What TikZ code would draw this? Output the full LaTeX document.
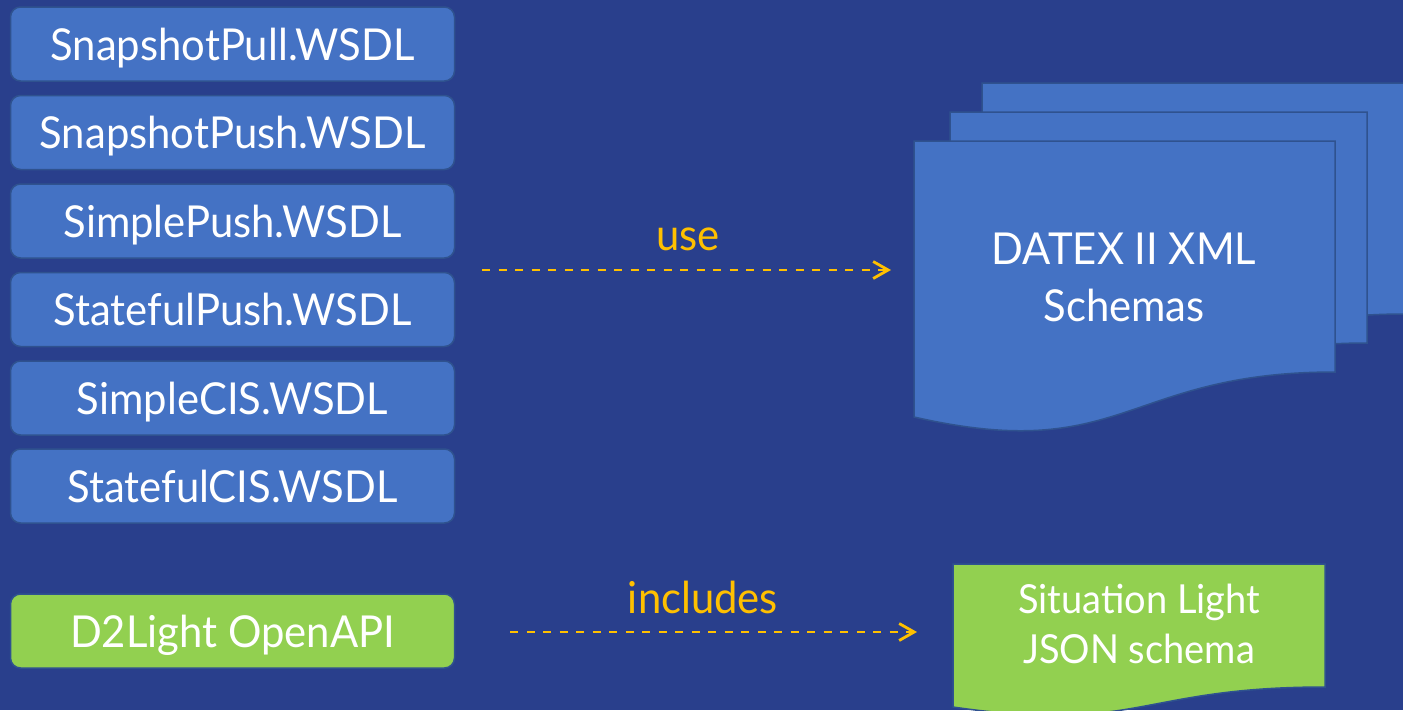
\documentclass[tikz,border=0pt]{standalone}
\usepackage{fontspec}
\setmainfont[FakeStretch=0.95]{Lato}
\usetikzlibrary{arrows.meta}
\definecolor{bgblue}{HTML}{293F8C}
\definecolor{boxblue}{HTML}{4472C4}
\definecolor{boxedge}{HTML}{2F528F}
\definecolor{lgreen}{HTML}{92D050}
\definecolor{amber}{HTML}{FFC000}
\begin{document}
\begin{tikzpicture}[x=1pt,y=-1pt,
  wsdl/.style={draw=boxedge, line width=1.5pt, fill=boxblue, rounded corners=10pt,
    minimum width=444pt, minimum height=74pt, text=white, inner sep=0pt,
    font=\fontsize{44}{50}\selectfont, text height=32pt, text depth=0pt},
  apibox/.style={wsdl, fill=lgreen},
  docshape/.style={fill=boxblue, draw=boxedge, line width=1.5pt},
  doctext/.style={text=white, align=center, inner sep=0pt},
  dasharrow/.style={draw=amber, line width=2.8pt, dash pattern=on 8pt off 8.5pt,
    -{Straight Barb[length=15pt,width=17pt,line width=2.8pt]}},
  lbl/.style={text=amber, font=\fontsize{44}{50}\selectfont, inner sep=0pt, anchor=base}]
\fill[bgblue] (0,0) rectangle (1403,710);
\useasboundingbox (0,0) rectangle (1403,710);
\clip (0,0) rectangle (1403,710);

% WSDL boxes
\node[wsdl] (b1) at (232.5,44) {SnapshotPull.WSDL};
\node[wsdl] (b2) at (232.5,132.5) {SnapshotPush.WSDL};
\node[wsdl] (b3) at (232.5,221) {SimplePush.WSDL};
\node[wsdl] (b4) at (232.5,309.5) {StatefulPush.WSDL};
\node[wsdl] (b5) at (232.5,398) {SimpleCIS.WSDL};
\node[wsdl] (b6) at (232.5,486) {StatefulCIS.WSDL};
\node[apibox] (api) at (232.5,631) {D2Light OpenAPI};

% multidocument
\path[docshape] (982,83) -- (1405,83) -- (1405,314)
  .. controls (1193,314) and (1193,407) .. (982,388) -- cycle;
\path[docshape] (950,112) -- (1367,112) -- (1367,343)
  .. controls (1158,343) and (1158,436) .. (950,388) -- cycle;
\path[docshape] (914,141) -- (1335,141) -- (1335,372)
  .. controls (1124.5,372) and (1124.5,465) .. (914,417) -- cycle;
\node[doctext, font=\fontsize{44}{57}\selectfont] (datex) at (1124,277) {DATEX II XML\\Schemas};

% green document
\path[docshape, fill=lgreen] (953,564) -- (1325,564) -- (1325,687)
  .. controls (1139,687) and (1139,734) .. (953,707) -- cycle;
\node[doctext, font=\fontsize{40}{50}\selectfont] (sitlight) at (1139,624) {Situation Light\\JSON schema};

% connectors
\coordinate (useS) at (482,270);
\coordinate (useE) at (891,270);
\draw[dasharrow] (useS) -- (useE);
\node[lbl] (uselbl) at (688,250) {use};
\coordinate (incS) at (510,632);
\coordinate (incE) at (917,632);
\draw[dasharrow] (incS) -- (incE);
\node[lbl] (inclbl) at (703,613) {includes};
\end{tikzpicture}
\end{document}
